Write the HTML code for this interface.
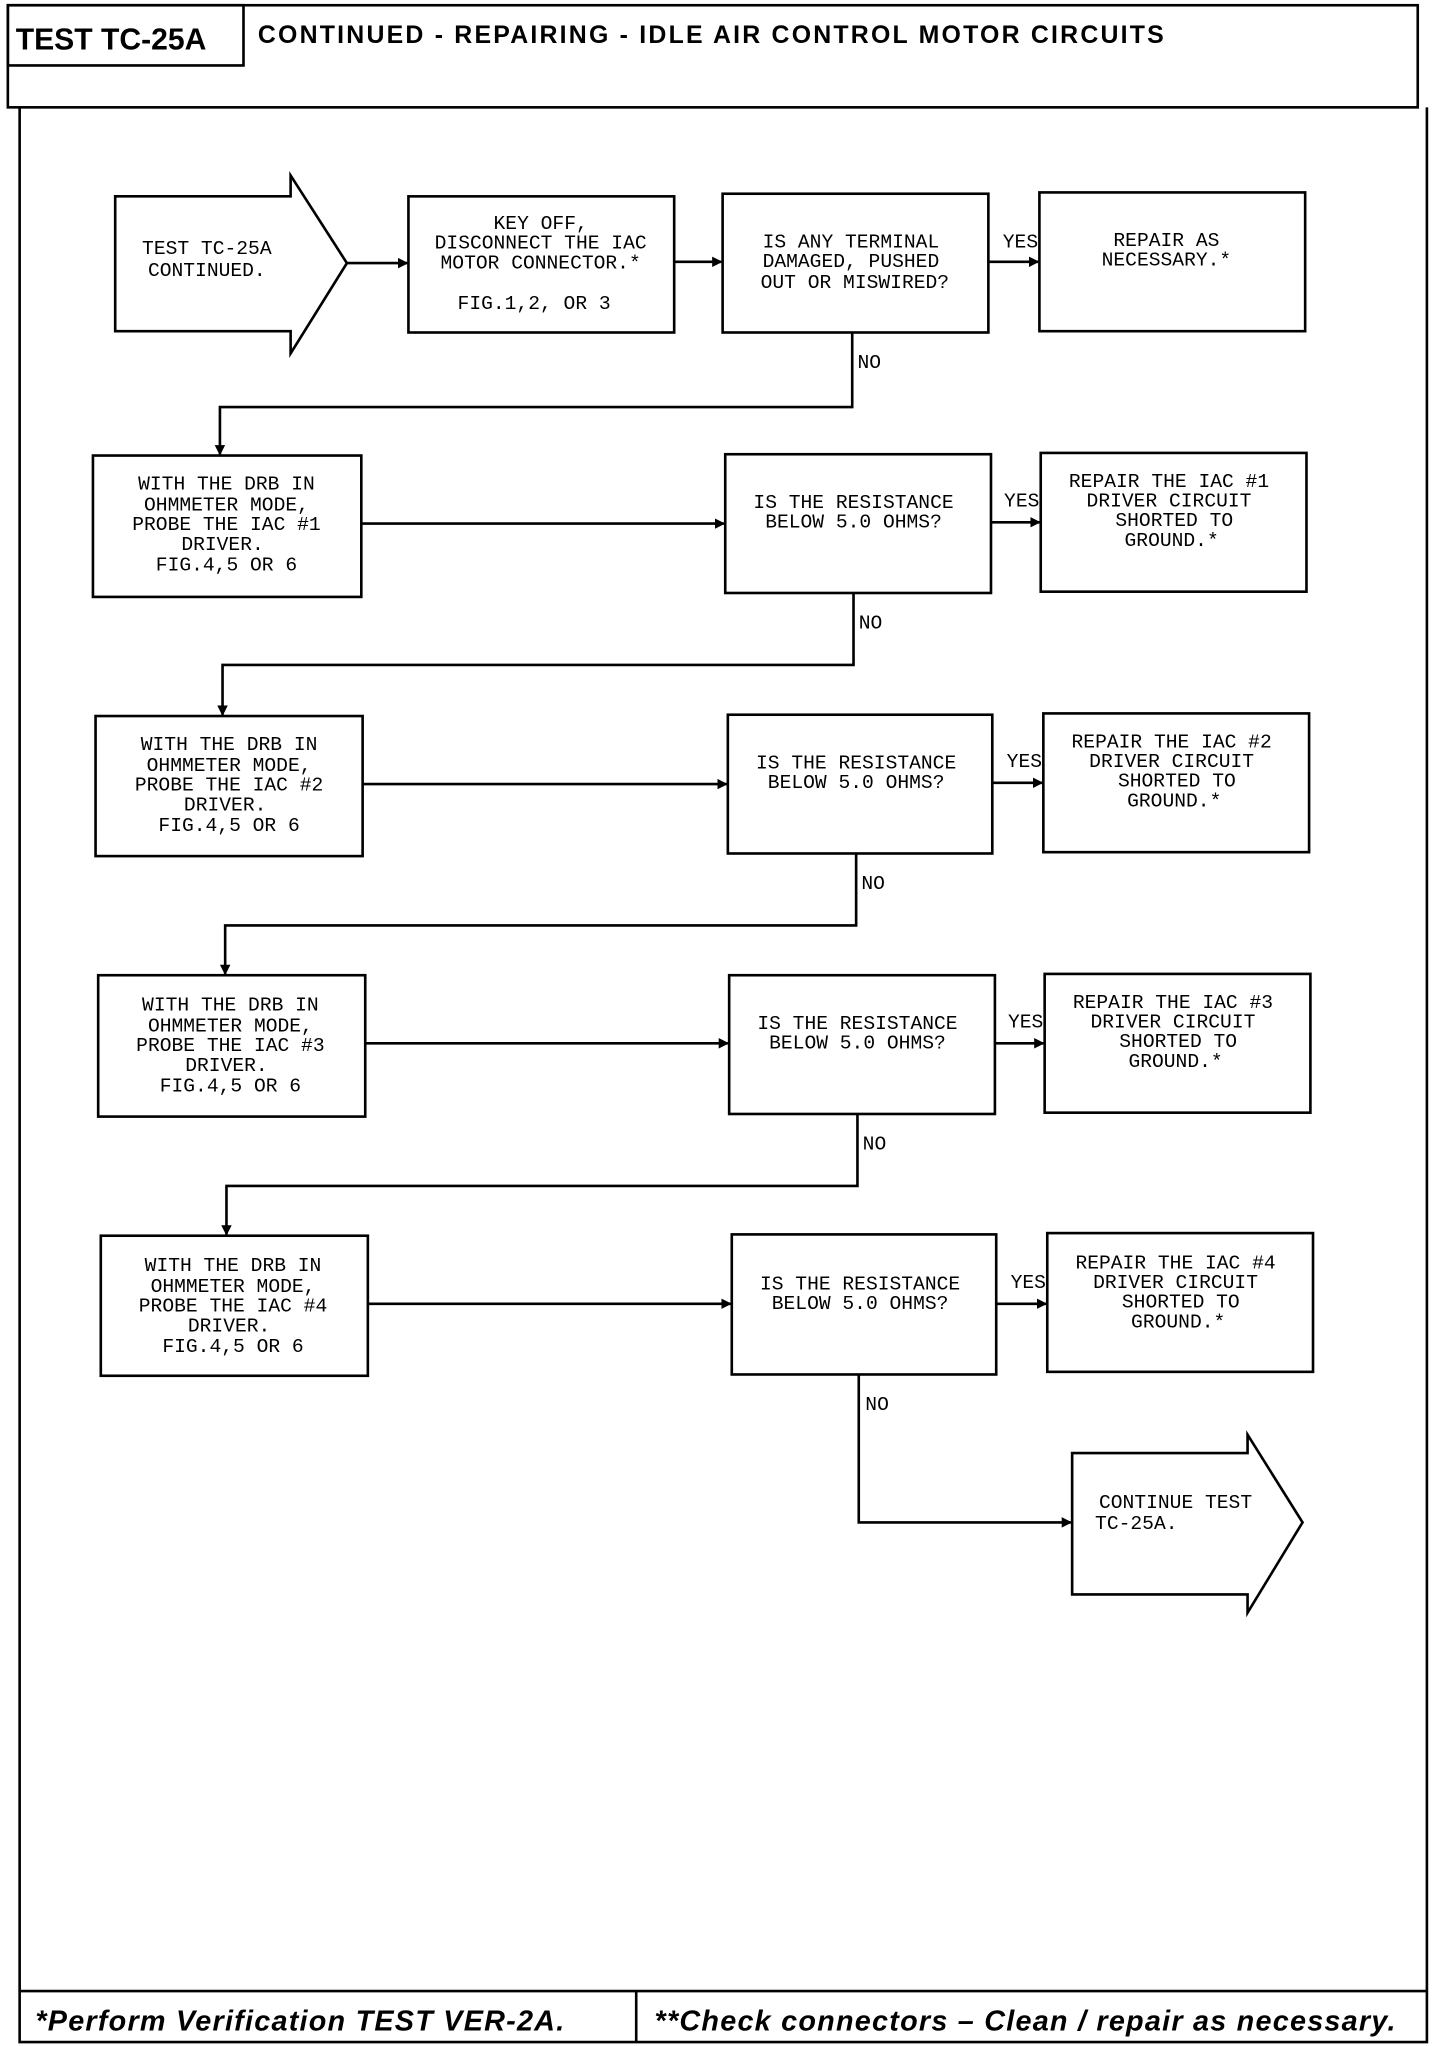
<!DOCTYPE html>
<html><head><meta charset="utf-8"><style>
html,body{margin:0;padding:0;background:#fff;}
svg{display:block;}
.t{font-family:"Liberation Mono",monospace;font-size:15px;fill:#000;text-anchor:middle;}
.l{font-family:"Liberation Mono",monospace;font-size:15px;fill:#000;}
</style></head><body>
<svg width="1440" height="2046" viewBox="0 0 1100 1563" preserveAspectRatio="none" xmlns="http://www.w3.org/2000/svg">
<defs><marker id="a" markerWidth="8" markerHeight="8" refX="7" refY="4" orient="auto" markerUnits="userSpaceOnUse"><path d="M0,0 L8,4 L0,8 z" fill="#000"/></marker></defs>
<g fill="none" stroke="#000" stroke-width="2">
<rect x="6" y="4" width="1077" height="78"/>
<rect x="6" y="4" width="180" height="46"/>
<path d="M15,82 L15,1560 L1090,1560 L1090,82"/>
<line x1="15" y1="1521" x2="1090" y2="1521"/>
<line x1="486" y1="1521" x2="486" y2="1560"/>
<!-- row1 -->
<path d="M88,150 L222,150 L222,134 L265,201 L222,270 L222,253 L88,253 Z"/>
<rect x="312" y="150" width="203" height="104"/>
<rect x="552" y="148" width="203" height="106"/>
<rect x="794" y="147" width="203" height="106"/>
<line x1="265" y1="201" x2="311" y2="201" marker-end="url(#a)"/>
<line x1="515" y1="200" x2="551" y2="200" marker-end="url(#a)"/>
<line x1="755" y1="200" x2="793" y2="200" marker-end="url(#a)"/>
<path d="M651,254 L651,311 L168,311 L168,347" marker-end="url(#a)"/>
<!-- row2 -->
<rect x="71" y="348" width="205" height="108"/>
<rect x="554" y="347" width="203" height="106"/>
<rect x="795" y="346" width="203" height="106"/>
<line x1="276" y1="400" x2="553" y2="400" marker-end="url(#a)"/>
<line x1="757" y1="399" x2="794" y2="399" marker-end="url(#a)"/>
<path d="M652,453 L652,508 L170,508 L170,546" marker-end="url(#a)"/>
<!-- row3 -->
<rect x="73" y="547" width="204" height="107"/>
<rect x="556" y="546" width="202" height="106"/>
<rect x="797" y="545" width="203" height="106"/>
<line x1="277" y1="599" x2="555" y2="599" marker-end="url(#a)"/>
<line x1="758" y1="598" x2="796" y2="598" marker-end="url(#a)"/>
<path d="M654,652 L654,707 L172,707 L172,744" marker-end="url(#a)"/>
<!-- row4 -->
<rect x="75" y="745" width="204" height="108"/>
<rect x="557" y="745" width="203" height="106"/>
<rect x="798" y="744" width="203" height="106"/>
<line x1="279" y1="797" x2="556" y2="797" marker-end="url(#a)"/>
<line x1="760" y1="797" x2="797" y2="797" marker-end="url(#a)"/>
<path d="M655,851 L655,906 L173,906 L173,943" marker-end="url(#a)"/>
<!-- row5 -->
<rect x="77" y="944" width="204" height="107"/>
<rect x="559" y="943" width="202" height="107"/>
<rect x="800" y="942" width="203" height="106"/>
<line x1="281" y1="996" x2="558" y2="996" marker-end="url(#a)"/>
<line x1="761" y1="996" x2="799" y2="996" marker-end="url(#a)"/>
<path d="M656,1050 L656,1163 L818,1163" marker-end="url(#a)"/>
<path d="M819,1110 L953,1110 L953,1096 L995,1163 L953,1232 L953,1218 L819,1218 Z"/>
</g>
<text x="12" y="38" style="font-family:'Liberation Sans',sans-serif;font-weight:bold;font-size:23px">TEST TC-25A</text>
<text x="197" y="33" style="font-family:'Liberation Sans',sans-serif;font-weight:bold;font-size:19px" textLength="692">CONTINUED -  REPAIRING - IDLE AIR CONTROL MOTOR CIRCUITS</text>
<text x="27" y="1551" style="font-family:'Liberation Sans',sans-serif;font-weight:bold;font-style:italic;font-size:22px" textLength="404">*Perform Verification TEST VER-2A.</text>
<text x="500" y="1551" style="font-family:'Liberation Sans',sans-serif;font-weight:bold;font-style:italic;font-size:22px" textLength="566">**Check connectors – Clean / repair as necessary.</text>

<text class="t" x="158" y="194">TEST TC-25A</text>
<text class="t" x="158" y="211">CONTINUED.</text>
<text class="t" x="413" y="175">KEY OFF,</text>
<text class="t" x="413" y="190">DISCONNECT THE IAC</text>
<text class="t" x="413" y="205">MOTOR CONNECTOR.*</text>
<text class="t" x="408" y="236">FIG.1,2, OR 3</text>
<text class="t" x="650" y="189">IS ANY TERMINAL</text>
<text class="t" x="650" y="204">DAMAGED, PUSHED</text>
<text class="t" x="653" y="220">OUT OR MISWIRED?</text>
<text class="t" x="891" y="188">REPAIR AS</text>
<text class="t" x="891" y="203">NECESSARY.*</text>
<text class="l" x="766" y="189">YES</text>
<text class="l" x="655" y="281">NO</text>

<g id="r2">
<text class="t" x="173" y="374">WITH THE DRB IN</text>
<text class="t" x="173" y="390">OHMMETER MODE,</text>
<text class="t" x="173" y="405">PROBE THE IAC #1</text>
<text class="t" x="170" y="420">DRIVER.</text>
<text class="t" x="173" y="436">FIG.4,5 OR 6</text>
<text class="t" x="652" y="388">IS THE RESISTANCE</text>
<text class="t" x="652" y="403">BELOW 5.0 OHMS?</text>
<text class="t" x="893" y="372">REPAIR THE IAC #1</text>
<text class="t" x="893" y="387">DRIVER CIRCUIT</text>
<text class="t" x="897" y="402">SHORTED TO</text>
<text class="t" x="895" y="417">GROUND.*</text>
<text class="l" x="767" y="387">YES</text>
<text class="l" x="656" y="480">NO</text>
</g>
<g transform="translate(2,199)">
<text class="t" x="173" y="374">WITH THE DRB IN</text>
<text class="t" x="173" y="390">OHMMETER MODE,</text>
<text class="t" x="173" y="405">PROBE THE IAC #2</text>
<text class="t" x="170" y="420">DRIVER.</text>
<text class="t" x="173" y="436">FIG.4,5 OR 6</text>
<text class="t" x="652" y="388">IS THE RESISTANCE</text>
<text class="t" x="652" y="403">BELOW 5.0 OHMS?</text>
<text class="t" x="893" y="372">REPAIR THE IAC #2</text>
<text class="t" x="893" y="387">DRIVER CIRCUIT</text>
<text class="t" x="897" y="402">SHORTED TO</text>
<text class="t" x="895" y="417">GROUND.*</text>
<text class="l" x="767" y="387">YES</text>
<text class="l" x="656" y="480">NO</text>
</g>
<g transform="translate(3,398)">
<text class="t" x="173" y="374">WITH THE DRB IN</text>
<text class="t" x="173" y="390">OHMMETER MODE,</text>
<text class="t" x="173" y="405">PROBE THE IAC #3</text>
<text class="t" x="170" y="420">DRIVER.</text>
<text class="t" x="173" y="436">FIG.4,5 OR 6</text>
<text class="t" x="652" y="388">IS THE RESISTANCE</text>
<text class="t" x="652" y="403">BELOW 5.0 OHMS?</text>
<text class="t" x="893" y="372">REPAIR THE IAC #3</text>
<text class="t" x="893" y="387">DRIVER CIRCUIT</text>
<text class="t" x="897" y="402">SHORTED TO</text>
<text class="t" x="895" y="417">GROUND.*</text>
<text class="l" x="767" y="387">YES</text>
<text class="l" x="656" y="480">NO</text>
</g>
<g transform="translate(5,597)">
<text class="t" x="173" y="374">WITH THE DRB IN</text>
<text class="t" x="173" y="390">OHMMETER MODE,</text>
<text class="t" x="173" y="405">PROBE THE IAC #4</text>
<text class="t" x="170" y="420">DRIVER.</text>
<text class="t" x="173" y="436">FIG.4,5 OR 6</text>
<text class="t" x="652" y="388">IS THE RESISTANCE</text>
<text class="t" x="652" y="403">BELOW 5.0 OHMS?</text>
<text class="t" x="893" y="372">REPAIR THE IAC #4</text>
<text class="t" x="893" y="387">DRIVER CIRCUIT</text>
<text class="t" x="897" y="402">SHORTED TO</text>
<text class="t" x="895" y="417">GROUND.*</text>
<text class="l" x="767" y="387">YES</text>
<text class="l" x="656" y="480">NO</text>
</g>
<text class="t" x="898" y="1152">CONTINUE TEST</text>
<text class="t" x="868" y="1168">TC-25A.</text>
</svg>
</body></html>
